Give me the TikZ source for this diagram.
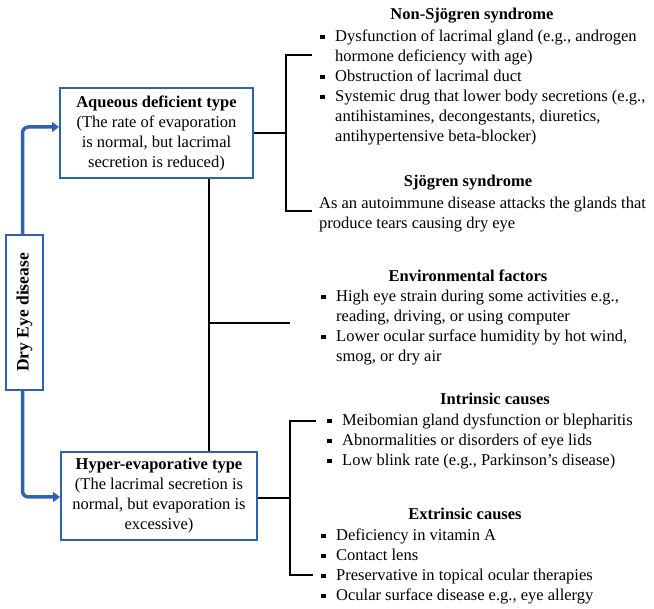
\documentclass[tikz,border=0pt]{standalone}
\usepackage{fontspec}
\setmainfont{Liberation Serif}
\usetikzlibrary{arrows.meta}
\definecolor{bl}{RGB}{47,98,180}
\newcommand{\bi}{\makebox[15pt][l]{\rule[2.7pt]{4.5pt}{4.5pt}}}
\newcommand{\ct}{\hspace*{15pt}}
\newcommand{\lnx}[1]{\hbox{#1}}
\newcommand{\blk}[1]{\vtop{\baselineskip=20pt\lineskiplimit=-20pt #1}}
\begin{document}
\begin{tikzpicture}[x=1pt,y=-1pt,
  font=\fontsize{16.5}{20}\selectfont,
  box/.style={draw=bl,line width=2pt,fill=white,align=center,inner sep=2pt},
  ttl/.style={font=\fontsize{16.5}{20}\selectfont\bfseries,anchor=base,inner sep=0pt},
  lst/.style={anchor=base west,inner sep=0pt},
  blarrow/.style={draw=bl,line width=3.5pt,rounded corners=6pt,-{Triangle[length=7pt,width=10pt]}},
  conn/.style={draw=black,line width=2pt}]
\useasboundingbox (0,0) rectangle (654,609);
% boxes
\node[box,minimum width=193pt,minimum height=90pt] (aq) at (156.5,133)
  {\textbf{Aqueous deficient type}\\(The rate of evaporation\\is normal, but lacrimal\\secretion is reduced)};
\node[box,minimum width=196pt,minimum height=88pt] (hy) at (159,496)
  {\textbf{Hyper-evaporative type}\\(The lacrimal secretion is\\normal, but evaporation is\\excessive)};
\node[box,rotate=90,minimum width=155pt,minimum height=37pt,font=\fontsize{17.5}{20}\selectfont\bfseries] (dry) at (24.5,312.5) {Dry Eye disease};
% blue arrows
\draw[blarrow] ([xshift=-2pt]dry.east) |- ([yshift=6pt]aq.west);
\draw[blarrow] ([xshift=-2pt]dry.west) |- ([yshift=-1pt]hy.west);
% black connectors
\coordinate (vt) at (209,0);
\coordinate (env) at (290,323);
\draw[conn] (vt |- aq.south) -- (vt |- hy.north);
\draw[conn] (vt |- env) -- (env);
\coordinate (b1t) at (312,55);
\coordinate (b1m) at (286,133);
\coordinate (b1b) at (312,211);
\draw[conn] (aq.east) -- (b1m);
\draw[conn] (b1t) -| (b1m) |- (b1b);
\coordinate (b2t) at (316,421);
\coordinate (b2m) at (290,498);
\coordinate (b2b) at (313,575);
\draw[conn] (hy.east |- b2m) -- (b2m);
\draw[conn] (b2t) -| (b2m) |- (b2b);
% texts
\node[ttl] (t1) at (472,20) {Non-Sjögren syndrome};
\node[lst] (l1) at (320,42) {\blk{\lnx{\bi Dysfunction of lacrimal gland (e.g., androgen}\lnx{\ct hormone deficiency with age)}\lnx{\bi Obstruction of lacrimal duct}\lnx{\bi Systemic drug that lower body secretions (e.g.,}\lnx{\ct antihistamines, decongestants, diuretics,}\lnx{\ct antihypertensive beta-blocker)}}};
\node[ttl] (t2) at (468,187) {Sjögren syndrome};
\node[lst] (l2) at (319,209) {\blk{\lnx{As an autoimmune disease attacks the glands that}\lnx{produce tears causing dry eye}}};
\node[ttl] (t3) at (468,282) {Environmental factors};
\node[lst] (l3) at (321,302) {\blk{\lnx{\bi High eye strain during some activities e.g.,}\lnx{\ct reading, driving, or using computer}\lnx{\bi Lower ocular surface humidity by hot wind,}\lnx{\ct smog, or dry air}}};
\node[ttl] (t4) at (495,405) {Intrinsic causes};
\node[lst] (l4) at (327,426) {\blk{\lnx{\bi Meibomian gland dysfunction or blepharitis}\lnx{\bi Abnormalities or disorders of eye lids}\lnx{\bi Low blink rate (e.g., Parkinson's disease)}}};
\node[ttl] (t5) at (465,520) {Extrinsic causes};
\node[lst] (l5) at (321,541) {\blk{\lnx{\bi Deficiency in vitamin A}\lnx{\bi Contact lens}\lnx{\bi Preservative in topical ocular therapies}\lnx{\bi Ocular surface disease e.g., eye allergy}}};
\end{tikzpicture}
\end{document}
